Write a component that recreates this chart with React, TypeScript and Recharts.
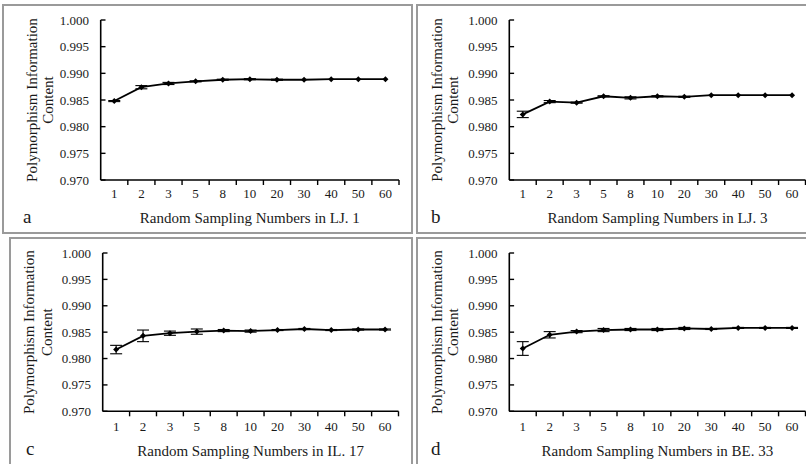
import React from "react";
import { LineChart, Line, XAxis, YAxis, ErrorBar } from "recharts";

// sampling sizes on the x axis (categories)
const samplingNumbers = ["1", "2", "3", "5", "8", "10", "20", "30", "40", "50", "60"];
const picTicks = [0.97, 0.975, 0.98, 0.985, 0.99, 0.995, 1.0];

// mean PIC per sampling number
const picLJ1 = [0.9848, 0.9874, 0.9881, 0.9885, 0.9888, 0.9889, 0.9888, 0.9888, 0.9889, 0.9889, 0.9889];
const errLJ1 = [0.0001, 0.0003, 0.0002, 0.0001, 0.0001, 0.0001, 0.0001, 0, 0, 0, 0];

const picLJ3 = [0.9823, 0.9847, 0.9845, 0.9857, 0.9854, 0.9857, 0.9856, 0.9859, 0.9859, 0.9859, 0.9859];
const errLJ3 = [0.0006, 0.0002, 0.0001, 0.0001, 0.0002, 0.0001, 0.0001, 0, 0, 0, 0];

const picIL17 = [0.9817, 0.9843, 0.9848, 0.9851, 0.9853, 0.9852, 0.9854, 0.9856, 0.9854, 0.9855, 0.9855];
const errIL17 = [0.0008, 0.0011, 0.0004, 0.0005, 0.0002, 0.0002, 0.0001, 0.0001, 0.0001, 0.0001, 0.0001];

const picBE33 = [0.9819, 0.9845, 0.9851, 0.9854, 0.9855, 0.9855, 0.9857, 0.9856, 0.9858, 0.9858, 0.9858];
const errBE33 = [0.0013, 0.0006, 0.0002, 0.0003, 0.0002, 0.0002, 0.0002, 0.0001, 0.0001, 0.0001, 0.0001];

const FONT = '"Liberation Serif", "Times New Roman", serif';
const INK = "#1a1a1a";

// page-coordinate layout of each panel
const panels = [
  {
    letter: "a", title: "Random Sampling Numbers in LJ. 1", values: picLJ1, errors: errLJ1,
    frame: { x: 2, y: 4, w: 411, h: 230 },
    chart: { x: 4, y: 6, w: 406, h: 226 },
    plot: { l: 100.7, t: 20, r: 399, b: 180 },
    yLab: [32, 48.3], tickGap: 17.5, titleY: 223, letterPos: [23, 223],
  },
  {
    letter: "b", title: "Random Sampling Numbers in LJ. 3", values: picLJ3, errors: errLJ3,
    frame: { x: 416, y: 4, w: 394, h: 230 },
    chart: { x: 418, y: 6, w: 388, h: 226 },
    plot: { l: 509.3, t: 20, r: 805.5, b: 180 },
    yLab: [436.7, 453.3], tickGap: 17.5, titleY: 223, letterPos: [431, 223],
  },
  {
    letter: "c", title: "Random Sampling Numbers in IL. 17", values: picIL17, errors: errIL17,
    frame: { x: 9, y: 237, w: 404, h: 232 },
    chart: { x: 11, y: 239, w: 399, h: 225 },
    plot: { l: 102.7, t: 253, r: 398.5, b: 411.3 },
    yLab: [29.3, 46.7], tickGap: 20, titleY: 456, letterPos: [26, 455],
  },
  {
    letter: "d", title: "Random Sampling Numbers in BE. 33", values: picBE33, errors: errBE33,
    frame: { x: 416, y: 237, w: 394, h: 232 },
    chart: { x: 418, y: 239, w: 388, h: 225 },
    plot: { l: 509.3, t: 253, r: 805.5, b: 411.3 },
    yLab: [436.7, 453.3], tickGap: 20, titleY: 456, letterPos: [431, 455],
  },
];

const Diamond = (props: any) => {
  const { cx, cy, index } = props;
  if (cx == null || cy == null) return null;
  return (
    <path
      key={`dot-${index}`}
      d={`M${cx},${cy - 3}L${cx + 3},${cy}L${cx},${cy + 3}L${cx - 3},${cy}Z`}
      fill="#000"
    />
  );
};

function Panel({ p }: { p: (typeof panels)[number] }) {
  const { chart, plot } = p;
  const plotW = plot.r - plot.l;
  const half = plotW / samplingNumbers.length / 2;
  const yAxisW = plot.l - chart.x;
  const xAxisH = chart.y + chart.h - plot.b;
  const margin = { top: plot.t - chart.y, right: chart.x + chart.w - plot.r, bottom: 0, left: 0 };

  const data = samplingNumbers.map((n, i) => ({ n, pic: p.values[i], err: p.errors[i] }));

  const xTick = (t: any) => (
    <g>
      <line x1={t.x + half} x2={t.x + half} y1={t.y} y2={t.y + 5} stroke="#000" strokeWidth={1.4} />
      <text x={t.x} y={t.y + p.tickGap} textAnchor="middle" fontSize={13} fontFamily={FONT} fill={INK}>
        {t.payload.value}
      </text>
    </g>
  );

  const yTick = (t: any) => (
    <g>
      <line x1={t.x + 11.7} x2={t.x + 16.5} y1={t.y} y2={t.y} stroke="#000" strokeWidth={1.4} />
      <text x={t.x} y={t.y + 4.5} textAnchor="end" fontSize={13} fontFamily={FONT} fill={INK}>
        {Number(t.payload.value).toFixed(3)}
      </text>
    </g>
  );

  const midY = (plot.t + plot.b) / 2 - chart.y;
  const yTitle = () => (
    <g fontSize={15} fontFamily={FONT} fill={INK}>
      <text
        x={p.yLab[0] + 5 - chart.x}
        y={midY}
        textAnchor="middle"
        transform={`rotate(-90, ${p.yLab[0] + 5 - chart.x}, ${midY})`}
      >
        Polymorphism Information
      </text>
      <text
        x={p.yLab[1] + 5 - chart.x}
        y={midY}
        textAnchor="middle"
        transform={`rotate(-90, ${p.yLab[1] + 5 - chart.x}, ${midY})`}
      >
        Content
      </text>
    </g>
  );

  const xTitle = () => (
    <text
      x={(plot.l + plot.r) / 2 - chart.x}
      y={p.titleY - chart.y}
      textAnchor="middle"
      fontSize={15}
      fontFamily={FONT}
      fill={INK}
    >
      {p.title}
    </text>
  );

  return (
    <>
      <div
        style={{
          position: "absolute",
          left: p.frame.x,
          top: p.frame.y,
          width: p.frame.w,
          height: p.frame.h,
          border: "2px solid #9a9a9a",
          boxSizing: "border-box",
        }}
      />
      <div style={{ position: "absolute", left: chart.x, top: chart.y }}>
        <LineChart width={chart.w} height={chart.h} data={data} margin={margin}>
          <XAxis
            dataKey="n"
            type="category"
            interval={0}
            padding={{ left: half, right: half }}
            height={xAxisH}
            axisLine={{ stroke: "#000", strokeWidth: 1.6 }}
            tickLine={false}
            tickSize={0}
            tickMargin={0}
            tick={xTick}
            label={{ content: xTitle }}
          />
          <YAxis
            type="number"
            domain={[0.97, 1.0]}
            ticks={picTicks}
            interval={0}
            width={yAxisW}
            axisLine={{ stroke: "#000", strokeWidth: 1.6 }}
            tickLine={false}
            tickSize={0}
            tickMargin={11.7}
            tick={yTick}
            label={{ content: yTitle }}
          />
          <Line
            dataKey="pic"
            type="linear"
            stroke="#000"
            strokeWidth={1.8}
            dot={Diamond}
            activeDot={false}
            isAnimationActive={false}
          >
            <ErrorBar dataKey="err" width={6} stroke="#000" strokeWidth={1.1} isAnimationActive={false} />
          </Line>
        </LineChart>
      </div>
      <div
        style={{
          position: "absolute",
          left: p.letterPos[0],
          top: p.letterPos[1] - 16,
          fontFamily: FONT,
          fontSize: 19,
          lineHeight: "20px",
          color: INK,
        }}
      >
        {p.letter}
      </div>
    </>
  );
}

export default function App() {
  return (
    <div
      style={{
        position: "absolute",
        left: 0,
        top: 0,
        width: 806,
        height: 464,
        overflow: "hidden",
        background: "#fff",
      }}
    >
      {panels.map((p) => (
        <Panel key={p.letter} p={p} />
      ))}
    </div>
  );
}
